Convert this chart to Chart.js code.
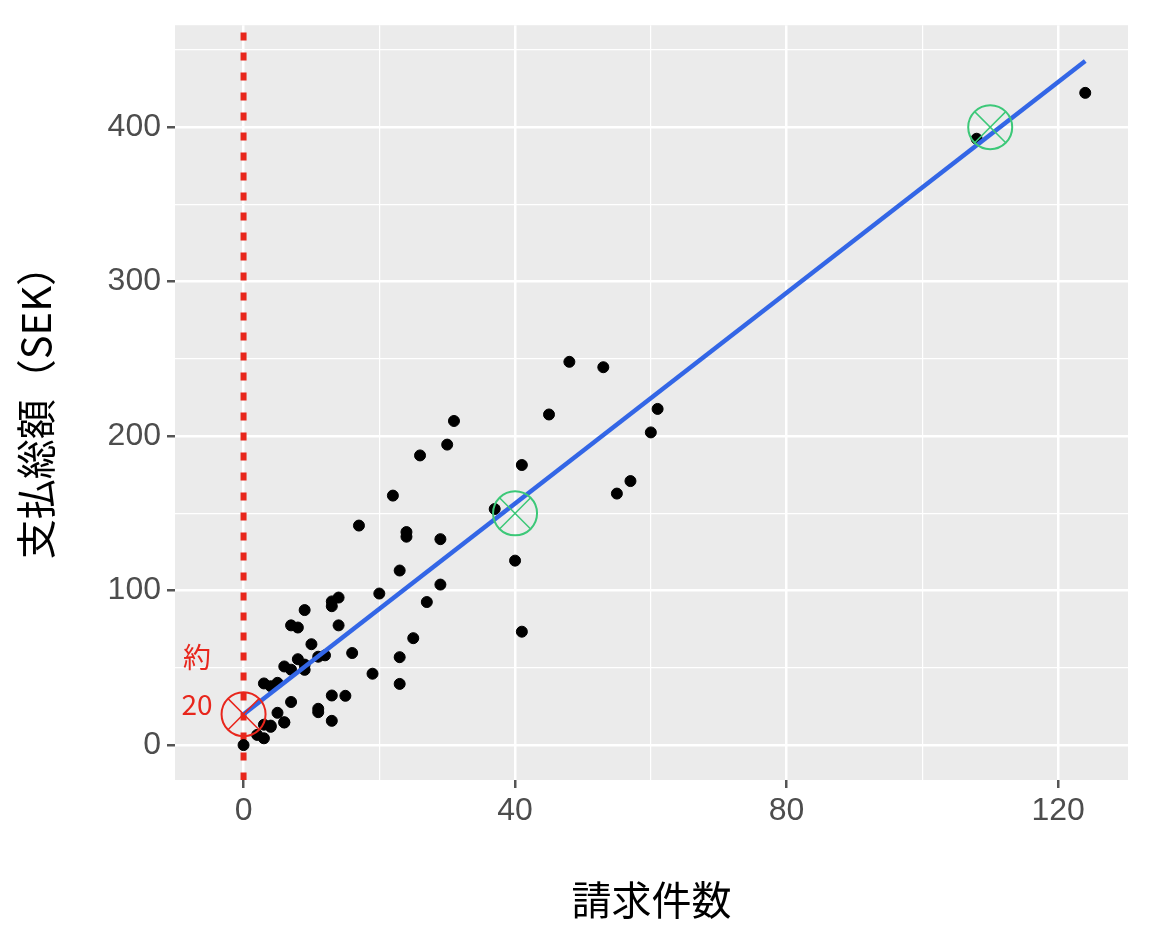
<!DOCTYPE html>
<html><head><meta charset="utf-8">
<script src="https://cdn.jsdelivr.net/npm/chart.js@4/dist/chart.umd.min.js"></script>
<style>html,body{margin:0;background:#fff}#c{display:block}</style></head>
<body><div style="width:1152px;height:928px"><canvas id="c"></canvas></div>
<script>
const claims=[108,19,13,124,40,57,23,14,45,10,5,48,11,23,7,2,24,6,3,23,6,9,9,3,29,7,4,20,7,4,0,25,6,5,22,11,61,12,4,16,13,60,41,37,55,41,11,27,8,3,17,13,13,15,8,29,30,24,9,31,14,53,26];
const payments=[392.5,46.2,15.7,422.2,119.4,170.9,56.9,77.5,214,65.3,20.9,248.1,23.5,39.6,48.8,6.6,134.9,50.9,4.4,113,14.8,48.7,52.1,13.2,103.9,77.5,11.8,98.1,27.9,38.1,0,69.2,14.6,40.3,161.5,57.2,217.6,58.1,12.6,59.6,89.9,202.4,181.3,152.8,162.8,73.4,21.3,92.6,76.1,39.9,142.1,93,32.1,31.9,55.6,133.3,194.5,137.9,87.4,209.8,95.5,244.6,187.5];
const fitLine=[{x:0,y:19.99},{x:124,y:442.8}];
const greenMarks=[{x:40,y:150},{x:110,y:400}];
const redMark=[{x:0,y:20}];
const zeroLine=[{x:0,y:-23},{x:0,y:466}];
const xTicks=[0,40,80,120], yTicks=[0,100,200,300,400];
const pts=claims.map((x,i)=>({x,y:payments[i]}));
const bg={id:'bg',beforeDraw(c){const a=c.chartArea,g=c.ctx;g.save();g.fillStyle='#EBEBEB';g.fillRect(a.left,a.top,a.right-a.left,a.bottom-a.top);g.restore();},
afterDraw(c){const g=c.ctx;g.save();g.fillStyle='#E8261C';g.font='28px "Noto Sans CJK JP"';g.textAlign='center';g.textBaseline='middle';g.fillText('約',197,657);g.fillText('20',197,704);g.restore();}};
new Chart(document.getElementById('c'),{type:'scatter',
data:{datasets:[
{data:zeroLine,showLine:true,borderColor:'#E8261C',borderWidth:6,borderDash:[8,12],pointRadius:0,order:5},
{data:pts,backgroundColor:'#000',borderColor:'#000',pointRadius:5.5,order:3},
{data:fitLine,showLine:true,borderColor:'#3366E6',borderWidth:4.5,pointRadius:0,order:2},
{data:greenMarks,pointStyle:'circle',pointRadius:22,backgroundColor:'rgba(0,0,0,0)',borderColor:'#3CC878',borderWidth:2,order:1},
{data:greenMarks,pointStyle:'crossRot',pointRadius:22,borderColor:'#3CC878',borderWidth:1.5,order:1},
{data:redMark,pointStyle:'circle',pointRadius:22,backgroundColor:'rgba(0,0,0,0)',borderColor:'#E8261C',borderWidth:2,order:1},
{data:redMark,pointStyle:'crossRot',pointRadius:22,borderColor:'#E8261C',borderWidth:1.5,order:1}
]},
options:{responsive:true,maintainAspectRatio:false,animation:false,
layout:{padding:{top:25,right:22,left:8}},
plugins:{legend:{display:false},tooltip:{enabled:false}},
scales:{
x:{type:'linear',min:-10.1,max:130.3,afterBuildTicks(s){s.ticks=[0,20,40,60,80,100,120].map(v=>({value:v}));},
 afterFit(s){s.height=148;},
 grid:{color:'#fff',lineWidth:c=>xTicks.includes(c.tick.value)?2.5:1.2,drawTicks:true,tickLength:8,tickColor:c=>xTicks.includes(c.tick.value)?'#555':'rgba(0,0,0,0)'},border:{display:false},
 ticks:{color:'#4d4d4d',font:{size:32,family:'Liberation Sans'},padding:4,autoSkip:false,maxRotation:0,callback:v=>xTicks.includes(v)?String(v):''},
 title:{display:true,text:'請求件数',color:'#000',font:{size:40,family:'Noto Sans CJK JP'},padding:{top:0}}},
y:{type:'linear',min:-22.6,max:466,afterBuildTicks(s){s.ticks=[0,50,100,150,200,250,300,350,400,450].map(v=>({value:v}));},
 afterFit(s){s.width=167;},
 grid:{color:'#fff',lineWidth:c=>yTicks.includes(c.tick.value)?2.5:1.2,drawTicks:true,tickLength:8,tickColor:c=>yTicks.includes(c.tick.value)?'#555':'rgba(0,0,0,0)'},border:{display:false},
 ticks:{color:'#4d4d4d',font:{size:32,family:'Liberation Sans'},padding:6,autoSkip:false,callback:v=>yTicks.includes(v)?String(v):''},
 title:{display:true,text:'支払総額（SEK）',color:'#000',font:{size:40,family:'Noto Sans CJK JP'},padding:{bottom:4}}}
}},plugins:[bg]});
</script></body></html>
